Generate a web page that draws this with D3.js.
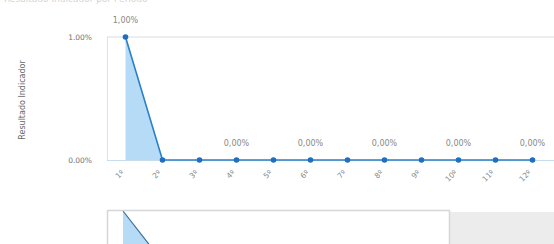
<!DOCTYPE html>
<html>
<head>
<meta charset="utf-8">
<script src="https://cdn.jsdelivr.net/npm/d3@7"></script>
<style>
  body { margin: 0; background: #fff; }
  svg { display: block; font-family: 'DejaVu Sans', Verdana, sans-serif; }
</style>
</head>
<body>
<svg id="chart" width="554" height="244"></svg>
<script>
const categories = ['1º', '2º', '3º', '4º', '5º', '6º', '7º', '8º', '9º', '10º', '11º', '12º'];
const values = [1, 0, 0, 0, 0, 0, 0, 0, 0, 0, 0, 0];
const labelled = [true, false, false, true, false, true, false, true, false, true, false, true];
const yTicks = [0, 1];

const width = 554;
const height = 244;

const svg = d3.select('#chart');

// faint title, cut off at the top like the source
svg.append('text')
  .attr('x', 4).attr('y', 2)
  .attr('font-size', 9)
  .attr('fill', '#d4d4d4')
  .text('Resultado Indicador por Período');

const plot = { left: 107, right: 552, top: 37, bottom: 160 };

const x = d3.scaleBand()
  .domain(categories)
  .range([plot.left, plot.left + 37 * categories.length]);

const y = d3.scaleLinear()
  .domain([0, 1])
  .range([plot.bottom, plot.top]);

const cx = d => x(d) + x.bandwidth() / 2;
const data = categories.map((c, i) => ({ c, v: values[i], lab: labelled[i] }));

// grid lines
svg.append('g')
  .selectAll('line')
  .data(yTicks.filter(t => t > 0))
  .join('line')
  .attr('x1', plot.left).attr('x2', width)
  .attr('y1', d => y(d)).attr('y2', d => y(d))
  .attr('stroke', '#dcdcdc');

// y axis line
svg.append('line')
  .attr('x1', plot.left + 0.5).attr('x2', plot.left + 0.5)
  .attr('y1', plot.top).attr('y2', plot.bottom)
  .attr('stroke', '#e2e2e2');

// y tick labels
svg.append('g')
  .selectAll('text')
  .data(yTicks)
  .join('text')
  .attr('x', 92).attr('y', d => y(d) + 3)
  .attr('text-anchor', 'end')
  .attr('font-size', 7.5)
  .attr('fill', '#6f6f6f')
  .text(d => d3.format('.2f')(d) + '%');

// y title
svg.append('text')
  .attr('transform', 'translate(25,100) rotate(-90)')
  .attr('text-anchor', 'middle')
  .attr('font-size', 8)
  .attr('fill', '#666')
  .text('Resultado Indicador');

// area + line
const area = d3.area()
  .x(d => cx(d.c))
  .y0(y(0))
  .y1(d => y(d.v));

const line = d3.line()
  .x(d => cx(d.c))
  .y(d => y(d.v));

svg.append('path')
  .datum(data)
  .attr('d', area)
  .attr('fill', '#b5dbf7');

// x axis line
svg.append('line')
  .attr('x1', plot.left).attr('x2', width)
  .attr('y1', plot.bottom + 0.5).attr('y2', plot.bottom + 0.5)
  .attr('stroke', '#c9dce9');

svg.append('path')
  .datum(data)
  .attr('d', line)
  .attr('fill', 'none')
  .attr('stroke', '#2a80c8')
  .attr('stroke-width', 1.6);

svg.append('g')
  .selectAll('circle')
  .data(data)
  .join('circle')
  .attr('cx', d => cx(d.c))
  .attr('cy', d => y(d.v))
  .attr('r', 2.8)
  .attr('fill', '#1e6fbf');

// data labels
const pct = v => d3.format('.2f')(v).replace('.', ',') + '%';
svg.append('g')
  .selectAll('text')
  .data(data.filter(d => d.lab))
  .join('text')
  .attr('x', d => cx(d.c))
  .attr('y', d => y(d.v) - 14)
  .attr('text-anchor', 'middle')
  .attr('font-size', 8)
  .attr('fill', '#888')
  .text(d => pct(d.v));

// x tick labels
svg.append('g')
  .selectAll('text')
  .data(categories)
  .join('text')
  .attr('transform', d => `translate(${cx(d) - 1},${plot.bottom + 13}) rotate(-45)`)
  .attr('text-anchor', 'end')
  .attr('font-size', 7.5)
  .attr('fill', '#888')
  .text(d => d);

//////////////////////////////////////////////
// navigator

const nav = { left: 107, top: 210, bottom: 252, sel: 449 };

const nx = d3.scalePoint()
  .domain(categories)
  .range([123, 123 + 32 * (categories.length - 1)]);

const ny = d3.scaleLinear()
  .domain([0, 1])
  .range([nav.bottom, nav.top + 1]);

svg.append('path')
  .datum(data)
  .attr('d', d3.area().x(d => nx(d.c)).y0(nav.bottom).y1(d => ny(d.v)))
  .attr('fill', '#b5dbf7');

svg.append('path')
  .datum(data)
  .attr('d', d3.line().x(d => nx(d.c)).y(d => ny(d.v)))
  .attr('fill', 'none')
  .attr('stroke', '#3a6f9a')
  .attr('stroke-width', 1.2);

svg.append('rect')
  .attr('x', nav.sel).attr('y', nav.top + 2)
  .attr('width', width - nav.sel).attr('height', height - nav.top)
  .attr('fill', '#ececec');

svg.append('rect')
  .attr('x', nav.left + 0.5).attr('y', nav.top + 0.5)
  .attr('width', nav.sel - nav.left).attr('height', height - nav.top + 5)
  .attr('fill', 'none')
  .attr('stroke', '#d6d6d6')
  .attr('stroke-width', 1.5);
</script>
</body>
</html>
